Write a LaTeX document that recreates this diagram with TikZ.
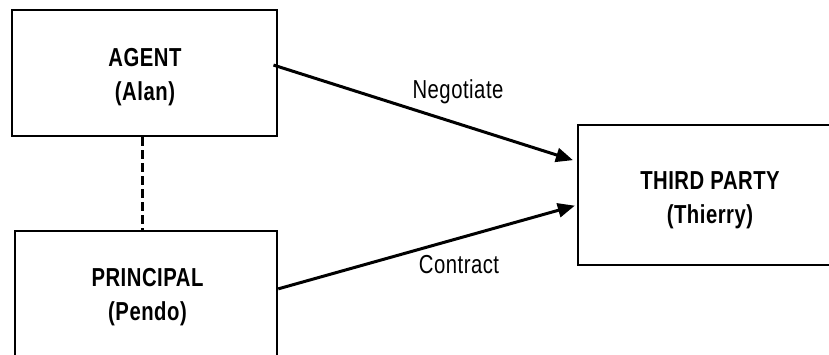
\documentclass[tikz,border=0pt]{standalone}
\usepackage{fontspec}
\setmainfont[FakeStretch=0.78,LetterSpace=2]{Liberation Sans}
\usetikzlibrary{arrows.meta,calc}
\begin{document}
\begin{tikzpicture}[x=1pt,y=-1pt,
  party/.style={draw=black, line width=2.5pt, fill=white, inner sep=0pt},
  ptext/.style={align=center, inner sep=0pt,
    font=\fontsize{26}{34}\selectfont\bfseries},
  link/.style={line width=3pt, -{Triangle[length=17pt,width=14pt]}},
  tie/.style={line width=3pt, dash pattern=on 9pt off 4pt},
  lbl/.style={font=\fontsize{26}{28}\selectfont, anchor=base, inner sep=0pt}]
\useasboundingbox (0,0) rectangle (829,354);
\clip (0,0) rectangle (829,354);
\node[party, minimum width=265pt, minimum height=126pt] (agent) at (144.5,73) {};
\node[party, minimum width=262pt, minimum height=134pt] (principal) at (146,298) {};
\node[party, minimum width=262pt, minimum height=140pt] (third) at (709,195) {};
\node[ptext] (agenttxt) at (145,77.5) {AGENT\\(Alan)};
\node[ptext] (principaltxt) at (147.5,297.5) {PRINCIPAL\\(Pendo)};
\node[ptext] (thirdtxt) at (710,200.5) {THIRD PARTY\\(Thierry)};
\coordinate (nA) at ($(agent.north east)!0.45!(agent.south east)$);
\coordinate (nT) at ($(third.north west)!0.264!(third.south west)$);
\coordinate (cP) at ($(principal.north east)!0.433!(principal.south east)$);
\coordinate (cT) at ($(third.north west)!0.571!(third.south west)$);
\draw[link, shorten >=4pt, shorten <=-5pt] (nA) -- (nT);
\draw[link, shorten >=2pt] (cP) -- (cT);
\draw[tie] ($(agent.south)+(-2.5,0)$) -- ($(agent.south |- principal.north)+(-2.5,0)$);
\node[lbl] (neg) at (458,98) {Negotiate};
\node[lbl] (con) at (459,273) {Contract};
\end{tikzpicture}
\end{document}
